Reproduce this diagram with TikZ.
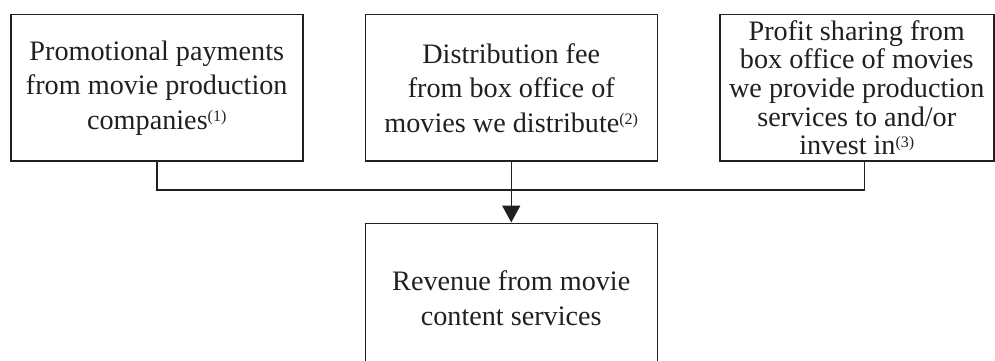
\documentclass[tikz,border=0pt]{standalone}
\usepackage{fontspec}
\setmainfont{Liberation Serif}
\usetikzlibrary{arrows.meta, positioning}
\definecolor{ink}{HTML}{231F20}
\newcommand{\noteref}[1]{\raisebox{7.5pt}{\fontsize{16}{16}\selectfont(#1)}}

\begin{document}
\begin{tikzpicture}[x=1pt, y=1pt,
    line width=1.5pt,
    box/.style={draw=ink, text=ink, align=center, inner sep=2pt,
                minimum height=146pt, minimum width=292pt,
                font=\fontsize{28.2}{34.5}\selectfont},
    tight/.style={box, minimum width=274pt, font=\fontsize{28.2}{28.6}\selectfont},
    link/.style={draw=ink},
    feed/.style={link, -{Triangle[length=17pt, width=18pt]}}]
  \useasboundingbox (0,0) rectangle (995,-361);
  \clip (0,0) rectangle (995,-361);
  \node[box, anchor=north west] (promo) at (10,-14)
    {Promotional payments\\from movie production\\companies\noteref{1}};
  \node[box, right=61pt of promo] (dist)
    {Distribution fee\\from box office of\\movies we distribute\noteref{2}};
  \node[tight, right=61pt of dist] (share)
    {Profit sharing from\\box office of movies\\we provide production\\services to and/or\\invest in\noteref{3}};
  \node[box, below=61pt of dist, minimum height=150pt] (rev)
    {Revenue from movie\\content services};
  % bus joining the three sources
  \coordinate (bus) at (0,-190);
  \coordinate (tap) at ([xshift=7.5pt]share.south);
  \draw[link] (promo.south) |- (tap |- bus) -- (tap);
  \draw[feed] (dist) -- (rev);
\end{tikzpicture}
\end{document}
